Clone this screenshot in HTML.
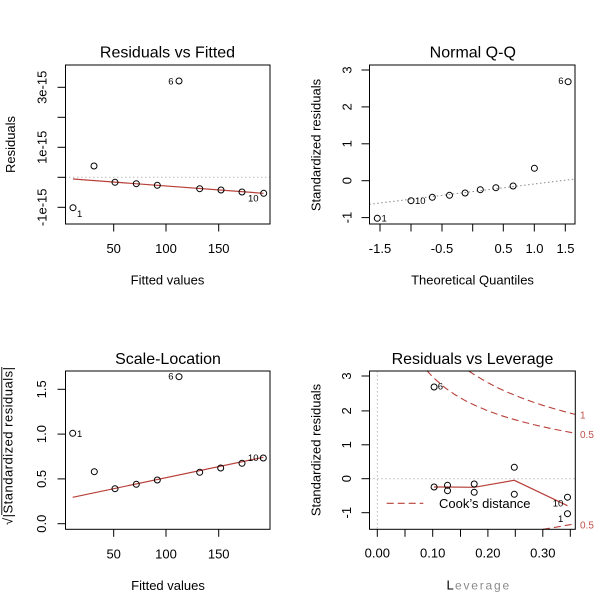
<!DOCTYPE html>
<html><head><meta charset="utf-8"><style>
html,body{margin:0;padding:0;background:#fff;}
svg{display:block;}
text{font-family:"Liberation Sans",Arial,sans-serif;}
</style></head><body>
<svg width="609" height="611" viewBox="0 0 609 611" xmlns="http://www.w3.org/2000/svg">
<rect width="609" height="611" fill="#fff"/>

<!-- ============ Panel 1: Residuals vs Fitted ============ -->
<text x="167.5" y="57.5" font-size="16" text-anchor="middle" fill="#000">Residuals vs Fitted</text>
<line x1="65" y1="177.3" x2="270" y2="177.3" stroke="#bbb" stroke-dasharray="1.5,2.5"/>
<polyline points="73,179 263.5,193.3" fill="none" stroke="#b8403a" stroke-width="1.2"/>
<g fill="none" stroke="#000" stroke-width="1">
<circle cx="73" cy="207.7" r="3"/>
<circle cx="94" cy="166" r="3"/>
<circle cx="115" cy="182.3" r="3"/>
<circle cx="136.3" cy="183.7" r="3"/>
<circle cx="157.3" cy="185.3" r="3"/>
<circle cx="179" cy="81" r="3"/>
<circle cx="199.7" cy="188.7" r="3"/>
<circle cx="221" cy="190" r="3"/>
<circle cx="242" cy="192" r="3"/>
<circle cx="263.7" cy="193.3" r="3"/>
</g>
<g fill="#000">
<text x="77" y="217" font-size="9.5">1</text>
<text x="173.5" y="84.5" font-size="9.5" text-anchor="end">6</text>
<text x="248" y="201.5" font-size="9.5">10</text>
</g>
<rect x="65.5" y="65" width="204.5" height="159" fill="none" stroke="#000"/>
<g stroke="#000">
<line x1="57.5" y1="87.3" x2="65.5" y2="87.3"/>
<line x1="57.5" y1="117.3" x2="65.5" y2="117.3"/>
<line x1="57.5" y1="147.3" x2="65.5" y2="147.3"/>
<line x1="57.5" y1="177.3" x2="65.5" y2="177.3"/>
<line x1="57.5" y1="207.3" x2="65.5" y2="207.3"/>
<line x1="113.7" y1="224" x2="113.7" y2="231.5"/>
<line x1="166" y1="224" x2="166" y2="231.5"/>
<line x1="218.7" y1="224" x2="218.7" y2="231.5"/>
</g>
<g font-size="13" text-anchor="middle" fill="#000">
<text transform="translate(46.5,87.3) rotate(-90)">3e-15</text>
<text transform="translate(46.5,147.3) rotate(-90)">1e-15</text>
<text transform="translate(46.5,207.3) rotate(-90)">-1e-15</text>
<text x="113.7" y="252.8">50</text>
<text x="166" y="252.8">100</text>
<text x="218.7" y="252.8">150</text>
<text x="167.5" y="284.5">Fitted values</text>
<text transform="translate(15,144.5) rotate(-90)">Residuals</text>
</g>

<!-- ============ Panel 2: Normal Q-Q ============ -->
<text x="472.8" y="57.5" font-size="16" text-anchor="middle" fill="#000">Normal Q-Q</text>
<line x1="369.3" y1="204.3" x2="575" y2="179" stroke="#888" stroke-dasharray="1.5,2.5"/>
<g fill="none" stroke="#000" stroke-width="1">
<circle cx="377.3" cy="218.3" r="3"/>
<circle cx="411" cy="200.7" r="3"/>
<circle cx="432.3" cy="197.3" r="3"/>
<circle cx="449.5" cy="195.3" r="3"/>
<circle cx="465.1" cy="193" r="3"/>
<circle cx="480.3" cy="189.7" r="3"/>
<circle cx="495.9" cy="187.7" r="3"/>
<circle cx="513.1" cy="186" r="3"/>
<circle cx="534.4" cy="168.3" r="3"/>
<circle cx="568.1" cy="81.7" r="3"/>
</g>
<g fill="#000">
<text x="381.5" y="221.5" font-size="9.5">1</text>
<text x="415" y="204" font-size="9.5">10</text>
<text x="563.5" y="84" font-size="9.5" text-anchor="end">6</text>
</g>
<rect x="369.5" y="65" width="205.5" height="159" fill="none" stroke="#000"/>
<g stroke="#000">
<line x1="361.5" y1="70" x2="369.5" y2="70"/>
<line x1="361.5" y1="106.9" x2="369.5" y2="106.9"/>
<line x1="361.5" y1="143.8" x2="369.5" y2="143.8"/>
<line x1="361.5" y1="180.7" x2="369.5" y2="180.7"/>
<line x1="361.5" y1="217.6" x2="369.5" y2="217.6"/>
<line x1="380" y1="224" x2="380" y2="231.5"/>
<line x1="411" y1="224" x2="411" y2="231.5"/>
<line x1="442" y1="224" x2="442" y2="231.5"/>
<line x1="472.7" y1="224" x2="472.7" y2="231.5"/>
<line x1="503.3" y1="224" x2="503.3" y2="231.5"/>
<line x1="534.3" y1="224" x2="534.3" y2="231.5"/>
<line x1="565.3" y1="224" x2="565.3" y2="231.5"/>
</g>
<g font-size="13" text-anchor="middle" fill="#000">
<text transform="translate(351.5,70) rotate(-90)">3</text>
<text transform="translate(351.5,106.9) rotate(-90)">2</text>
<text transform="translate(351.5,143.8) rotate(-90)">1</text>
<text transform="translate(351.5,180.7) rotate(-90)">0</text>
<text transform="translate(351.5,217.6) rotate(-90)">-1</text>
<text x="380" y="253.2">-1.5</text>
<text x="442" y="253.2">-0.5</text>
<text x="503.5" y="253.2">0.5</text>
<text x="534.5" y="253.2">1.0</text>
<text x="565.5" y="253.2">1.5</text>
<text x="472.5" y="284.5">Theoretical Quantiles</text>
<text transform="translate(320.5,145) rotate(-90)">Standardized residuals</text>
</g>

<!-- ============ Panel 3: Scale-Location ============ -->
<text x="168" y="364" font-size="16" text-anchor="middle" fill="#000">Scale-Location</text>
<polyline points="72.7,497.3 263.3,457.3" fill="none" stroke="#b8403a" stroke-width="1.2"/>
<g fill="none" stroke="#000" stroke-width="1">
<circle cx="72.7" cy="433.3" r="3"/>
<circle cx="94.3" cy="471.7" r="3"/>
<circle cx="115" cy="488.7" r="3"/>
<circle cx="136.3" cy="484.3" r="3"/>
<circle cx="157.3" cy="480" r="3"/>
<circle cx="179" cy="376.7" r="3"/>
<circle cx="199.7" cy="472.3" r="3"/>
<circle cx="220.7" cy="468" r="3"/>
<circle cx="242" cy="463.3" r="3"/>
<circle cx="263.3" cy="458" r="3"/>
</g>
<g fill="#000">
<text x="77" y="437" font-size="9.5">1</text>
<text x="173.5" y="379.5" font-size="9.5" text-anchor="end">6</text>
<text x="258.5" y="461" font-size="9.5" text-anchor="end">10</text>
</g>
<rect x="65.5" y="371" width="204.5" height="158.3" fill="none" stroke="#000"/>
<g stroke="#000">
<line x1="57.5" y1="389.3" x2="65.5" y2="389.3"/>
<line x1="57.5" y1="434.1" x2="65.5" y2="434.1"/>
<line x1="57.5" y1="478.9" x2="65.5" y2="478.9"/>
<line x1="57.5" y1="523.7" x2="65.5" y2="523.7"/>
<line x1="113.7" y1="529.3" x2="113.7" y2="536.8"/>
<line x1="166" y1="529.3" x2="166" y2="536.8"/>
<line x1="218.7" y1="529.3" x2="218.7" y2="536.8"/>
</g>
<g font-size="13" text-anchor="middle" fill="#000">
<text transform="translate(45.8,389.3) rotate(-90)">1.5</text>
<text transform="translate(45.8,434.1) rotate(-90)">1.0</text>
<text transform="translate(45.8,478.9) rotate(-90)">0.5</text>
<text transform="translate(45.8,523.7) rotate(-90)">0.0</text>
<text x="113.7" y="558.3">50</text>
<text x="166" y="558.3">100</text>
<text x="218.7" y="558.3">150</text>
<text x="168" y="590">Fitted values</text>
</g>
<text transform="translate(12.5,446) rotate(-90)" font-size="13" text-anchor="middle" fill="#000" textLength="158" lengthAdjust="spacing">√|Standardized residuals|</text>
<line x1="1.8" y1="367" x2="1.8" y2="515" stroke="#000" stroke-width="0.9"/>

<!-- ============ Panel 4: Residuals vs Leverage ============ -->
<text x="472.5" y="364" font-size="16" text-anchor="middle" fill="#000">Residuals vs Leverage</text>
<line x1="369.3" y1="478.7" x2="575.3" y2="478.7" stroke="#bbb" stroke-dasharray="1.5,2.5"/>
<line x1="377.3" y1="371" x2="377.3" y2="529.3" stroke="#bbb" stroke-dasharray="1.5,2.5"/>
<g fill="none" stroke="#b8403a" stroke-width="1.1" stroke-dasharray="7,4">
<polyline points="426.9,370.6 432.4,376.7 443.5,386.6 454.5,394.4 465.5,400.8 476.6,406.1 487.6,410.7 498.6,414.7 509.6,418.2 520.7,421.3 531.7,424.2 542.7,426.7 553.8,429.1 564.8,431.3 575,433.2"/>
<polyline points="468.8,371 471,372.5 476.6,376.1 487.6,382.5 498.6,388.2 509.6,393.1 520.7,397.6 531.7,401.6 542.7,405.3 553.8,408.6 564.8,411.7 575,414.4"/>
<polyline points="543,529.3 553.8,527.6 564.8,525.6 575,523.8"/>
<line x1="386.7" y1="503.3" x2="423.3" y2="503.3"/>
</g>
<polyline points="434,487 447.5,487 474.2,487.3 514.3,480.3 567.5,505.7" fill="none" stroke="#b8403a" stroke-width="1.2"/>
<g fill="none" stroke="#000" stroke-width="1">
<circle cx="434.1" cy="387" r="3"/>
<circle cx="434.1" cy="487" r="3"/>
<circle cx="447.5" cy="485.3" r="3"/>
<circle cx="447.5" cy="490.7" r="3"/>
<circle cx="474.2" cy="484" r="3"/>
<circle cx="474.2" cy="492.3" r="3"/>
<circle cx="514.3" cy="467.3" r="3"/>
<circle cx="514.3" cy="494.3" r="3"/>
<circle cx="567.5" cy="497.2" r="3"/>
<circle cx="567.5" cy="513.7" r="3"/>
</g>
<g fill="#000">
<text x="437.7" y="389.5" font-size="9.5">6</text>
<text x="552.7" y="506.7" font-size="9.5">10</text>
<text x="558" y="522" font-size="9.5">1</text>
</g>
<text x="580" y="418.7" font-size="10" style="fill:#c0504a">1</text>
<text x="580" y="438" font-size="10" style="fill:#c0504a">0.5</text>
<text x="580" y="528.3" font-size="10" style="fill:#c0504a">0.5</text>
<text x="439" y="507.8" font-size="13" fill="#000">Cook’s distance</text>
<rect x="369.5" y="371" width="205.8" height="158.3" fill="none" stroke="#000"/>
<g stroke="#000">
<line x1="361.5" y1="376" x2="369.5" y2="376"/>
<line x1="361.5" y1="410.9" x2="369.5" y2="410.9"/>
<line x1="361.5" y1="444.8" x2="369.5" y2="444.8"/>
<line x1="361.5" y1="478.7" x2="369.5" y2="478.7"/>
<line x1="361.5" y1="512.7" x2="369.5" y2="512.7"/>
<line x1="377.3" y1="529.3" x2="377.3" y2="536.8"/>
<line x1="405" y1="529.3" x2="405" y2="536.8"/>
<line x1="432.7" y1="529.3" x2="432.7" y2="536.8"/>
<line x1="460.5" y1="529.3" x2="460.5" y2="536.8"/>
<line x1="487.9" y1="529.3" x2="487.9" y2="536.8"/>
<line x1="515.3" y1="529.3" x2="515.3" y2="536.8"/>
<line x1="542.8" y1="529.3" x2="542.8" y2="536.8"/>
<line x1="570.3" y1="529.3" x2="570.3" y2="536.8"/>
</g>
<g font-size="13" text-anchor="middle" fill="#000">
<text transform="translate(351,376) rotate(-90)">3</text>
<text transform="translate(351,410.9) rotate(-90)">2</text>
<text transform="translate(351,444.8) rotate(-90)">1</text>
<text transform="translate(351,478.7) rotate(-90)">0</text>
<text transform="translate(351,512.7) rotate(-90)">-1</text>
<text x="377.3" y="557.5">0.00</text>
<text x="432.7" y="557.5">0.10</text>
<text x="487.9" y="557.5">0.20</text>
<text x="542.8" y="557.5">0.30</text>
<text transform="translate(320.5,450) rotate(-90)">Standardized residuals</text>
</g>
<text x="446.5" y="589.5" font-size="13" fill="#000">L</text>
<text x="455" y="589.5" font-size="12" style="fill:#8a8a8a" letter-spacing="1.8">everage</text>
</svg>
</body></html>
